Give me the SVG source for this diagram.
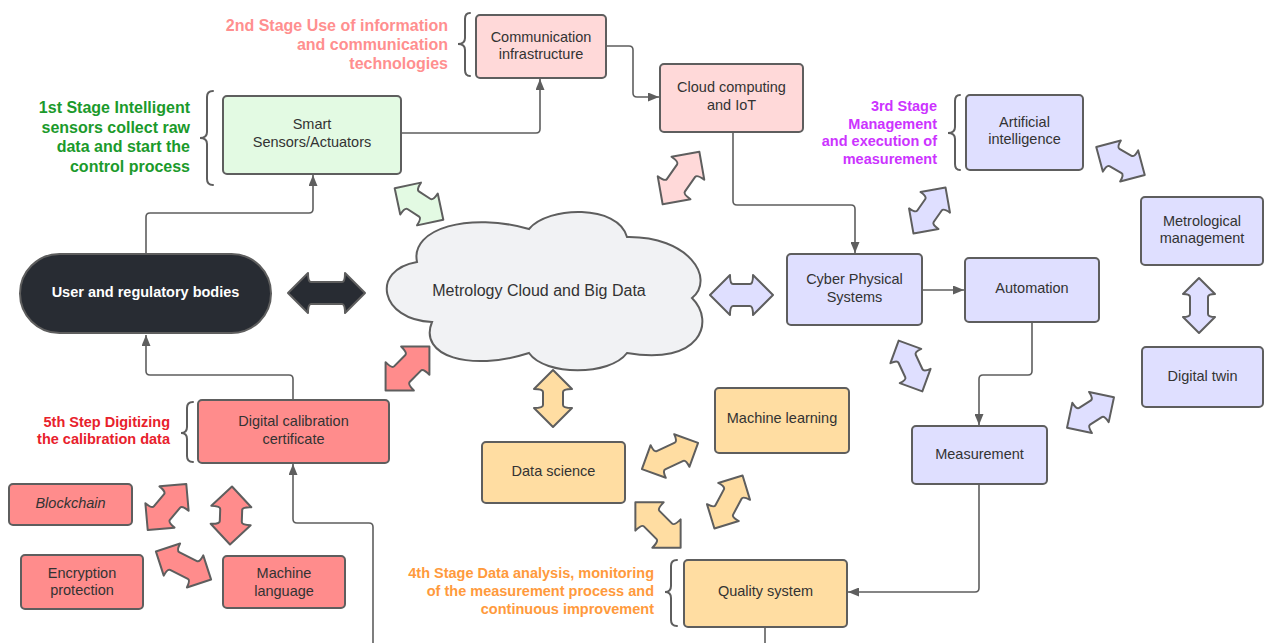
<svg xmlns="http://www.w3.org/2000/svg" width="1264" height="643" viewBox="0 0 1264 643">
<style>
.box{stroke:#5e5e5e;stroke-width:2;}
.g{fill:#e3fae3}.p{fill:#ffd9d9}.l{fill:#dfdfff}.o{fill:#ffdda2}.r{fill:#ff8c8c}
.t{font-family:"Liberation Sans",Arial,sans-serif;font-size:14.5px;fill:#333;text-anchor:middle}
.st{font-family:"Liberation Sans",Arial,sans-serif;font-weight:bold;text-anchor:end}
.br{fill:none;stroke:#5e5e5e;stroke-width:2;stroke-linecap:round}
.cn{fill:none;stroke:#5e5e5e;stroke-width:1.6}
.da{stroke:#5e5e5e;stroke-width:2;stroke-linejoin:round}
</style>
<defs>
<marker id="ah" markerWidth="11" markerHeight="9" refX="11" refY="4.5" orient="auto" markerUnits="userSpaceOnUse">
<path d="M0,0 L11,4.5 L0,9 Z" fill="#5e5e5e"/>
</marker>
</defs>
<rect width="1264" height="643" fill="#fff"/>

<g id="connectors">
<path class="cn" d="M401,133 L536,133 Q540,133 540,129 L540,79" marker-end="url(#ah)"/>
<path class="cn" d="M606,46 L629,46 Q633,46 633,50 L633,93 Q633,97 637,97 L659,97" marker-end="url(#ah)"/>
<path class="cn" d="M733,132 L733,201 Q733,205 737,205 L851,205 Q855,205 855,209 L855,253" marker-end="url(#ah)"/>
<path class="cn" d="M922,290 L964,290" marker-end="url(#ah)"/>
<path class="cn" d="M1032,322 L1032,371 Q1032,375 1028,375 L983,375 Q979,375 979,379 L979,425" marker-end="url(#ah)"/>
<path class="cn" d="M979,484 L979,588 Q979,592 975,592 L848,592" marker-end="url(#ah)"/>
<path class="cn" d="M765,627 L765,643"/>
<path class="cn" d="M373,643 L373,527 Q373,523 369,523 L297,523 Q293,523 293,519 L293,464" marker-end="url(#ah)"/>
<path class="cn" d="M293,400 L293,379 Q293,375 289,375 L150,375 Q146,375 146,371 L146,335" marker-end="url(#ah)"/>
<path class="cn" d="M146,254 L146,217 Q146,213 150,213 L309,213 Q313,213 313,209 L313,175" marker-end="url(#ah)"/>
</g>

<g id="double-arrows">
<path class="da" fill="#282c33" transform="translate(326.5,293)" d="M-38.5,0 L-18.5,-20 Q-18.5,-11 -15.5,-11 L15.5,-11 Q18.5,-11 18.5,-20 L38.5,0 L18.5,20 Q18.5,11 15.5,11 L-15.5,11 Q-18.5,11 -18.5,20 Z"/>
<path class="da l" transform="translate(741.5,295)" d="M-31.5,0 L-11.5,-20 Q-11.5,-11 -8.5,-11 L8.5,-11 Q11.5,-11 11.5,-20 L31.5,0 L11.5,20 Q11.5,11 8.5,11 L-8.5,11 Q-11.5,11 -11.5,20 Z"/>
<path class="da o" transform="translate(553,398.5) rotate(90)" d="M-28.5,0 L-9.5,-19 Q-9.5,-10 -6.5,-10 L6.5,-10 Q9.5,-10 9.5,-19 L28.5,0 L9.5,19 Q9.5,10 6.5,10 L-6.5,10 Q-9.5,10 -9.5,19 Z"/>
<path class="da l" transform="translate(1199,305.5) rotate(90)" d="M-27.5,0 L-11.5,-16 Q-11.5,-9 -8.5,-9 L8.5,-9 Q11.5,-9 11.5,-16 L27.5,0 L11.5,16 Q11.5,9 8.5,9 L-8.5,9 Q-11.5,9 -11.5,16 Z"/>
<path class="da g" transform="translate(419,204) rotate(33)" d="M-29,0 L-10,-19 Q-10,-10.5 -7,-10.5 L7,-10.5 Q10,-10.5 10,-19 L29,0 L10,19 Q10,10.5 7,10.5 L-7,10.5 Q-10,10.5 -10,19 Z"/>
<path class="da p" transform="translate(681,178) rotate(-55)" d="M-32,0 L-12,-20 Q-12,-11 -9,-11 L9,-11 Q12,-11 12,-20 L32,0 L12,20 Q12,11 9,11 L-9,11 Q-12,11 -12,20 Z"/>
<path class="da r" transform="translate(407.5,368.5) rotate(-45)" d="M-31,0 L-11,-20 Q-11,-11 -8,-11 L8,-11 Q11,-11 11,-20 L31,0 L11,20 Q11,11 8,11 L-8,11 Q-11,11 -11,20 Z"/>
<path class="da l" transform="translate(929.5,210.5) rotate(-55)" d="M-28,0 L-10,-18 Q-10,-10 -7,-10 L7,-10 Q10,-10 10,-18 L28,0 L10,18 Q10,10 7,10 L-7,10 Q-10,10 -10,18 Z"/>
<path class="da l" transform="translate(1120.5,161) rotate(30)" d="M-28,0 L-10,-18 Q-10,-10 -7,-10 L7,-10 Q10,-10 10,-18 L28,0 L10,18 Q10,10 7,10 L-7,10 Q-10,10 -10,18 Z"/>
<path class="da l" transform="translate(910.5,366) rotate(65)" d="M-28,0 L-11,-17 Q-11,-9.5 -8,-9.5 L8,-9.5 Q11,-9.5 11,-17 L28,0 L11,17 Q11,9.5 8,9.5 L-8,9.5 Q-11,9.5 -11,17 Z"/>
<path class="da l" transform="translate(1090.5,412.5) rotate(-33)" d="M-28,0 L-10,-18 Q-10,-10 -7,-10 L7,-10 Q10,-10 10,-18 L28,0 L10,18 Q10,10 7,10 L-7,10 Q-10,10 -10,18 Z"/>
<path class="da o" transform="translate(670,456) rotate(-25)" d="M-31,0 L-13,-18 Q-13,-10 -10,-10 L10,-10 Q13,-10 13,-18 L31,0 L13,18 Q13,10 10,10 L-10,10 Q-13,10 -13,18 Z"/>
<path class="da o" transform="translate(728.5,502) rotate(-62)" d="M-30,0 L-12,-18 Q-12,-10 -9,-10 L9,-10 Q12,-10 12,-18 L30,0 L12,18 Q12,10 9,10 L-9,10 Q-12,10 -12,18 Z"/>
<path class="da o" transform="translate(658,525) rotate(45)" d="M-32,0 L-12,-20 Q-12,-11 -9,-11 L9,-11 Q12,-11 12,-20 L32,0 L12,20 Q12,11 9,11 L-9,11 Q-12,11 -12,20 Z"/>
<path class="da r" transform="translate(167,507) rotate(-50)" d="M-30,0 L-11,-19 Q-11,-10.5 -8,-10.5 L8,-10.5 Q11,-10.5 11,-19 L30,0 L11,19 Q11,10.5 8,10.5 L-8,10.5 Q-11,10.5 -11,19 Z"/>
<path class="da r" transform="translate(231,515.5) rotate(92)" d="M-29,0 L-9,-20 Q-9,-11 -6,-11 L6,-11 Q9,-11 9,-20 L29,0 L9,20 Q9,11 6,11 L-6,11 Q-9,11 -9,20 Z"/>
<path class="da r" transform="translate(183.5,565.5) rotate(27)" d="M-31,0 L-13,-18 Q-13,-10 -10,-10 L10,-10 Q13,-10 13,-18 L31,0 L13,18 Q13,10 10,10 L-10,10 Q-13,10 -13,18 Z"/>
</g>

<g id="braces">
<path class="br" d="M213,91 Q207,91 207,97 L207,132 Q207,138 200,138 Q207,138 207,144 L207,179 Q207,185 213,185"/>
<path class="br" d="M470,13 Q465,13 465,19 L465,38 Q465,44 458,44 Q465,44 465,50 L465,70 Q465,76 470,76"/>
<path class="br" d="M960,95 Q955,95 955,101 L955,127 Q955,133 948,133 Q955,133 955,139 L955,164 Q955,170 960,170"/>
<path class="br" d="M677,560 Q671,560 671,566 L671,586 Q671,592 665,592 Q671,592 671,598 L671,620 Q671,626 677,626"/>
<path class="br" d="M193,402 Q187,402 187,408 L187,427 Q187,433 181,433 Q187,433 187,439 L187,456 Q187,462 193,462"/>
</g>

<g id="stage-labels">
<text class="st" font-size="16" fill="#1b9a2b"><tspan x="190" y="113">1st Stage Intelligent</tspan><tspan x="190" y="133">sensors collect raw</tspan><tspan x="190" y="152">data and start the</tspan><tspan x="190" y="172">control process</tspan></text>
<text class="st" font-size="16" fill="#ff8f8f"><tspan x="448" y="31">2nd Stage Use of information</tspan><tspan x="448" y="50">and communication</tspan><tspan x="448" y="69">technologies</tspan></text>
<text class="st" font-size="14.5" fill="#cc33ff"><tspan x="937" y="111">3rd Stage</tspan><tspan x="937" y="129">Management</tspan><tspan x="937" y="146">and execution of</tspan><tspan x="937" y="164">measurement</tspan></text>
<text class="st" font-size="14.5" fill="#ff9a3c"><tspan x="654" y="578">4th Stage Data analysis, monitoring</tspan><tspan x="654" y="596">of the measurement process and</tspan><tspan x="654" y="614">continuous improvement</tspan></text>
<text class="st" font-size="14.5" fill="#e8212b"><tspan x="170" y="427">5th Step Digitizing</tspan><tspan x="170" y="444">the calibration data</tspan></text>
</g>

<g id="cloud">
<path d="M417,262 C410,228 470,212 529,229 C548,206 618,204 627,237 C688,236 716,278 692,298 C716,322 700,366 627,353 C610,376 545,376 529,353 C470,372 418,356 432,322 C380,320 370,270 417,262 Z" fill="#f1f2f4" stroke="#5e5e5e" stroke-width="2"/>
<text class="t" x="539" y="296" style="font-size:16px">Metrology Cloud and Big Data</text>
</g>

<g id="user-bodies">
<rect x="20" y="254" width="251" height="79" rx="39.5" fill="#282c33" stroke="#5e5e5e" stroke-width="2"/>
<text class="t" x="145.5" y="297" style="fill:#fff;font-weight:bold">User and regulatory bodies</text>
</g>

<g id="smart-sensors">
<rect class="box g" x="223" y="96" width="178" height="78" rx="4"/>
<text class="t"><tspan x="312" y="129">Smart</tspan><tspan x="312" y="147">Sensors/Actuators</tspan></text>
</g>
<g id="communication">
<rect class="box p" x="476" y="15" width="130" height="63" rx="4"/>
<text class="t"><tspan x="541" y="42">Communication</tspan><tspan x="541" y="59">infrastructure</tspan></text>
</g>
<g id="cloud-iot">
<rect class="box p" x="660" y="64" width="143" height="68" rx="4"/>
<text class="t"><tspan x="731.5" y="92">Cloud computing</tspan><tspan x="731.5" y="110">and IoT</tspan></text>
</g>
<g id="ai">
<rect class="box l" x="966" y="95" width="117" height="75" rx="4"/>
<text class="t"><tspan x="1024.5" y="127">Artificial</tspan><tspan x="1024.5" y="144">intelligence</tspan></text>
</g>
<g id="metrological-management">
<rect class="box l" x="1141" y="197" width="122" height="68" rx="4"/>
<text class="t"><tspan x="1202" y="226">Metrological</tspan><tspan x="1202" y="243">management</tspan></text>
</g>
<g id="cps">
<rect class="box l" x="787" y="254" width="135" height="71" rx="4"/>
<text class="t"><tspan x="854.5" y="284">Cyber Physical</tspan><tspan x="854.5" y="302">Systems</tspan></text>
</g>
<g id="automation">
<rect class="box l" x="965" y="258" width="134" height="64" rx="4"/>
<text class="t" x="1032" y="293">Automation</text>
</g>
<g id="digital-twin">
<rect class="box l" x="1142" y="347" width="121" height="60" rx="4"/>
<text class="t" x="1202.5" y="381">Digital twin</text>
</g>
<g id="measurement">
<rect class="box l" x="912" y="426" width="135" height="58" rx="4"/>
<text class="t" x="979.5" y="459">Measurement</text>
</g>
<g id="machine-learning">
<rect class="box o" x="715" y="388" width="134" height="65" rx="4"/>
<text class="t" x="782" y="423">Machine learning</text>
</g>
<g id="data-science">
<rect class="box o" x="482" y="442" width="143" height="61" rx="4"/>
<text class="t" x="553.5" y="476">Data science</text>
</g>
<g id="quality-system">
<rect class="box o" x="684" y="560" width="163" height="67" rx="4"/>
<text class="t" x="765.5" y="596">Quality system</text>
</g>
<g id="dcc">
<rect class="box r" x="198" y="400" width="191" height="63" rx="4"/>
<text class="t"><tspan x="293.5" y="426">Digital calibration</tspan><tspan x="293.5" y="444">certificate</tspan></text>
</g>
<g id="blockchain">
<rect class="box r" x="9" y="484" width="123" height="41" rx="4"/>
<text class="t" x="70.5" y="508" font-style="italic">Blockchain</text>
</g>
<g id="encryption">
<rect class="box r" x="21" y="555" width="122" height="54" rx="4"/>
<text class="t"><tspan x="82" y="578">Encryption</tspan><tspan x="82" y="595">protection</tspan></text>
</g>
<g id="machine-language">
<rect class="box r" x="223" y="556" width="122" height="52" rx="4"/>
<text class="t"><tspan x="284" y="578">Machine</tspan><tspan x="284" y="596">language</tspan></text>
</g>
</svg>
